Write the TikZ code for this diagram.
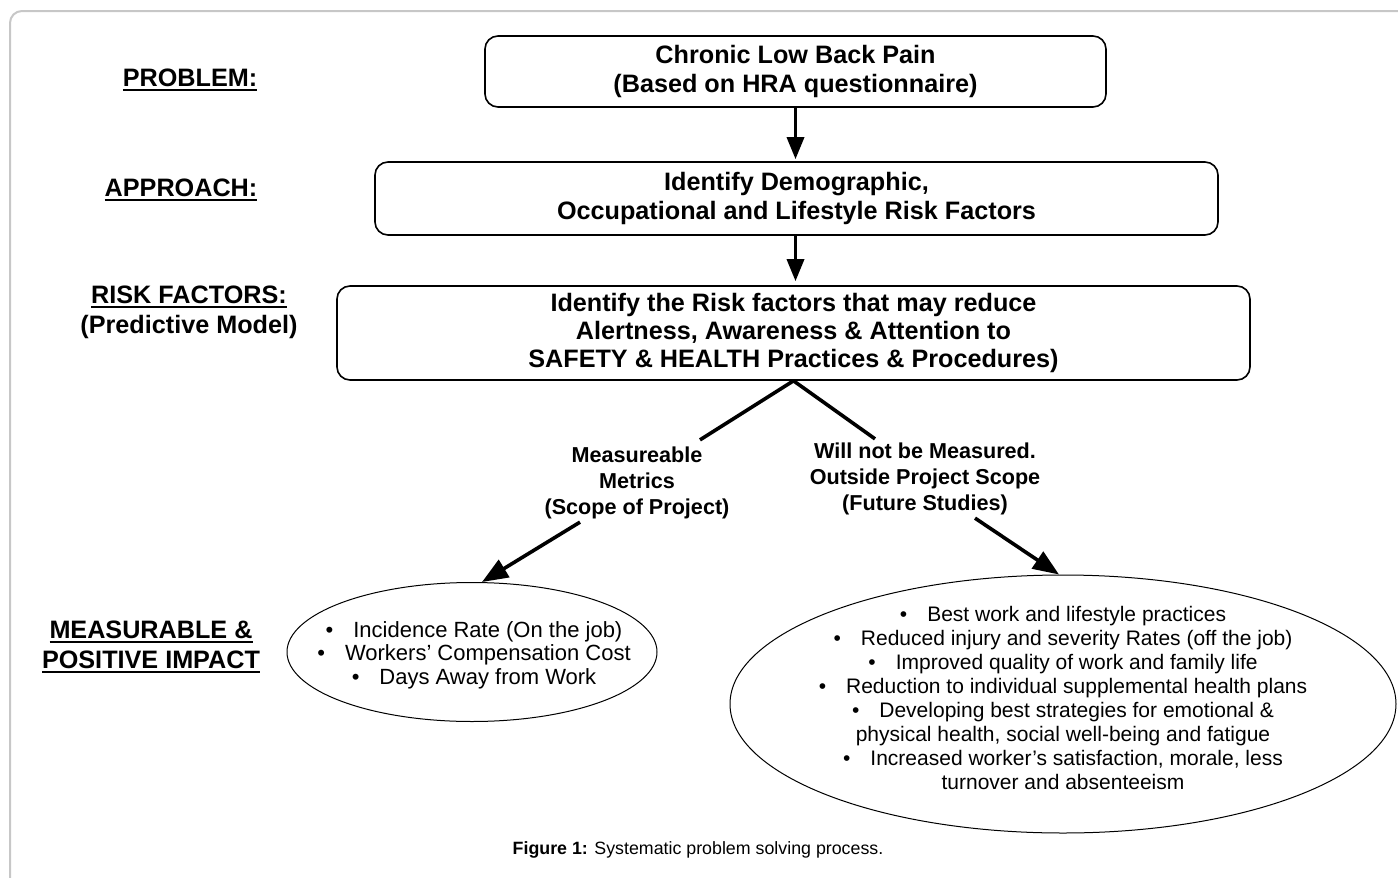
\documentclass[tikz,border=0pt]{standalone}
\usepackage{fontspec}
\setmainfont{Liberation Sans}
\usetikzlibrary{arrows.meta, positioning, shapes.geometric, calc}

% thick underline for the left-hand headings
\newcommand{\headul}[1]{\setbox0=\hbox{#1}\rlap{\rule[-2.6pt]{\wd0}{1pt}}\box0}

\begin{document}
\begin{tikzpicture}[x=0.5pt, y=-0.5pt]
        % Define styles
        \tikzset{
            frame/.style={draw=black!22, line width=1pt, rounded corners=6pt},
            stepbox/.style={draw, rounded corners=6.5pt, line width=0.8pt, align=center, inner sep=0pt, font=\bfseries\fontsize{12.6}{14.2}\selectfont},
            heading/.style={align=center, font=\bfseries\fontsize{12.6}{15}\selectfont},
            branchlabel/.style={align=center, font=\bfseries\fontsize{10.8}{13}\selectfont},
            flow/.style={-{Triangle[length=11pt, width=8.5pt]}, line width=1.7pt},
            branch/.style={line width=1.8pt},
            slant/.style={-{Triangle[length=13pt, width=10pt]}, line width=1.8pt},
            outcome/.style={draw, ellipse, line width=0.5pt, inner sep=0pt},
            bullets/.style={align=center, font=\fontsize{10.5}{12}\selectfont}
        }
        \useasboundingbox (0,0) rectangle (1398,878);
        % Frame round the figure
        \draw[frame] (10,878) -- (10,11) -- (1398,11);
        % Headings on the left
        \node[heading] (lblproblem) at (190,80) {\headul{PROBLEM:}};
        \node[heading] (lblapproach) at (181,190) {\headul{APPROACH:}};
        \node[heading] (lblrisk) at (189,312) {\headul{RISK FACTORS:}\\(Predictive Model)};
        \node[heading] (lblimpact) at (151,647) {\headul{MEASURABLE \&}\\\headul{POSITIVE IMPACT}};
        % Process boxes
        \node[stepbox, minimum width=310.5pt, minimum height=35.5pt] (problem) at (795.5,71.5) {Chronic Low Back Pain\\(Based on HRA questionnaire)};
        \node[stepbox, minimum width=421.5pt, minimum height=36.5pt] (approach) at (796.5,198.5) {Identify Demographic,\\Occupational and Lifestyle Risk Factors};
        \node[stepbox, minimum width=456.5pt, minimum height=47pt] (riskbox) at (793.5,333) {Identify the Risk factors that may reduce\\Alertness, Awareness \& Attention to\\SAFETY \& HEALTH Practices \& Procedures)};
        % Arrows between the boxes
        \draw[flow, shorten >=1pt] (problem.south) -- (problem.south |- approach.north);
        \draw[flow, shorten >=2pt] (approach.south -| problem.south) -- (problem.south |- riskbox.north);
        % Branch labels
        \node[branchlabel] (metrics) at (637,483) {Measureable\\Metrics\\(Scope of Project)};
        \node[branchlabel] (future) at (925,479) {Will not be Measured.\\Outside Project Scope\\(Future Studies)};
        % Outcome ellipses
        \node[outcome, minimum width=185pt, minimum height=69.5pt] (onjob) at (472,652) {};
        \node[outcome, minimum width=333pt, minimum height=129pt] (offjob) at (1063,704) {};
        \node[bullets, font=\fontsize{11}{11.8}\selectfont] (onjobtext) at (474,655) {\textbullet\hspace{10pt}Incidence Rate (On the job)\\
            \textbullet\hspace{10pt}Workers’ Compensation Cost\\
            \textbullet\hspace{10pt}Days Away from Work};
        \node[bullets] (offjobtext) at (1063,698) {\textbullet\hspace{10pt}Best work and lifestyle practices\\
            \textbullet\hspace{10pt}Reduced injury and severity Rates (off the job)\\
            \textbullet\hspace{10pt}Improved quality of work and family life\\
            \textbullet\hspace{10pt}Reduction to individual supplemental health plans\\
            \textbullet\hspace{10pt}Developing best strategies for emotional \&\\
            physical health, social well-being and fatigue\\
            \textbullet\hspace{10pt}Increased worker’s satisfaction, morale, less\\
            turnover and absenteeism};
        % Branch lines and arrows
        \draw[branch] (riskbox.south) -- ($(metrics.north)+(63,0)$);
        \draw[branch] (riskbox.south) -- ($(future.north)+(-50,3)$);
        \draw[slant] ($(metrics.south)+(-57,-4)$) -- ($(onjob.north)+(10,0)$);
        \draw[slant] ($(future.south)+(50,-4)$) -- ($(offjob.north)+(-4,0)$);
        % Caption
        \node[font=\fontsize{8.9}{10}\selectfont] (caption) at (698,850) {\textbf{Figure 1:} Systematic problem solving process.};
    \end{tikzpicture}
\end{document}
